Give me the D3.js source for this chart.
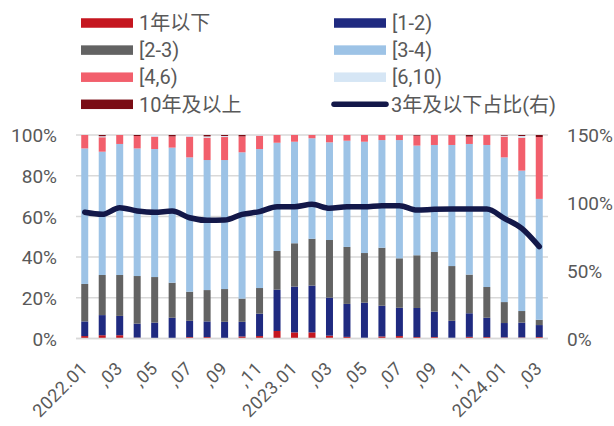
<!DOCTYPE html>
<html>
<head>
<meta charset="utf-8">
<script src="https://cdn.jsdelivr.net/npm/d3@7"></script>
<style>
  html, body { margin: 0; padding: 0; background: #fff; }
  svg { display: block; }
  text { font-family: Roboto, "Noto Sans CJK SC", sans-serif; fill: #595959; }
</style>
</head>
<body>
<svg id="chart" width="614" height="426"></svg>
<script>
// ---- data ----
const months = ["2022.01","2022.02","2022.03","2022.04","2022.05","2022.06","2022.07","2022.08","2022.09","2022.10","2022.11","2022.12",
                "2023.01","2023.02","2023.03","2023.04","2023.05","2023.06","2023.07","2023.08","2023.09","2023.10","2023.11","2023.12",
                "2024.01","2024.02","2024.03"];
const tickLabels = ["2022.01",",03",",05",",07",",09",",11","2023.01",",03",",05",",07",",09",",11","2024.01",",03"];
const seriesNames = ["1年以下","[1-2)","[2-3)","[3-4)","[4,6)","[6,10)","10年及以上"];
const under1  = [1.2,1.6,1.6,0.4,0.2,0.2,0.7,0.7,0.2,1.0,1.2,3.7,3.0,3.0,1.4,0.8,0.3,1.0,1.2,0.7,0.7,0.3,0.8,0.7,0.5,0.5,0.7];
const y1to2   = [7.2,9.9,9.5,6.9,7.6,10.0,8.0,7.7,8.0,7.2,11.0,20.3,22.5,23.0,18.7,16.2,17.3,15.1,13.9,14.3,12.5,8.4,11.6,9.5,7.1,7.3,5.9];
const y2to3   = [18.4,19.7,20.1,23.4,22.4,17.2,14.3,15.4,16.1,11.4,12.6,19.0,21.3,23.0,28.3,28.0,24.4,28.5,24.3,25.9,29.3,26.9,19.0,15.1,10.3,5.7,2.6];
const y3to4   = [66.6,60.6,64.4,62.7,62.9,66.4,66.0,63.9,63.4,71.9,68.3,53.2,49.9,49.4,48.0,52.2,54.7,52.9,58.1,53.9,52.6,59.5,64.2,69.8,71.1,69.0,59.4];
const y4to6   = [6.6,7.1,4.4,6.1,6.1,5.5,10.2,11.0,11.3,7.8,6.6,3.8,3.3,1.6,3.6,2.8,3.3,2.5,2.5,4.9,4.9,4.9,3.6,4.9,10.2,16.2,30.4];
const y6to10  = [0,0.5,0,0,0.8,0,0.8,0.6,0.5,0,0.3,0,0,0,0,0,0,0,0,0,0,0,0,0,0.5,0.8,0];
const over10  = [0,0.6,0,0.5,0,0.7,0,0.7,0.5,0.7,0,0,0,0,0,0,0,0,0,0.3,0,0,0.8,0,0.3,0.5,1.0];
const lineName = "3年及以下占比(右)";
const shareLine = [93.0,91.5,96.4,94.0,93.0,94.0,89.0,87.1,87.3,91.5,93.5,97.1,97.1,98.9,96.0,97.1,97.1,97.9,97.9,94.7,95.2,95.4,95.4,95.4,88.6,81.2,67.7];
const leftTicks = [0,20,40,60,80,100];
const rightTicks = [0,50,100,150];

const colors = ["#C5161F","#1F2A80","#636363","#9DC3E6","#F25F6C","#D6E6F5","#7A0C15"];
const lineColor = "#131849";

// ---- build ----
const seriesArrays = [under1,y1to2,y2to3,y3to4,y4to6,y6to10,over10];
const rows = months.map((m,i) => {
  const r = {month: m};
  seriesNames.forEach((s,k) => r[s] = seriesArrays[k][i]);
  return r;
});

const svg = d3.select("#chart");
const L = 76, R = 548, T = 135, B = 338.5;

const x = d3.scaleBand().domain(months).range([L,R]).paddingInner(0.6).paddingOuter(0.3);
const yL = d3.scaleLinear().domain([0,100]).range([B,T]);
const yR = d3.scaleLinear().domain([0,150]).range([B,T]);

// gridlines
svg.append("g").selectAll("line").data(leftTicks).join("line")
  .attr("x1",L).attr("x2",R)
  .attr("y1",d=>yL(d)).attr("y2",d=>yL(d))
  .attr("stroke","#D9D9D9").attr("stroke-width",1.5);

// stacked bars
const stack = d3.stack().keys(seriesNames)(rows);
svg.append("g").selectAll("g").data(stack).join("g")
  .attr("fill",(d,i)=>colors[i])
  .selectAll("rect").data(d=>d).join("rect")
  .attr("x",d=>x(d.data.month))
  .attr("width",x.bandwidth())
  .attr("y",d=>yL(d[1]))
  .attr("height",d=>Math.max(0,yL(d[0])-yL(d[1])));

// line
const line = d3.line()
  .x((d,i)=>x(months[i])+x.bandwidth()/2)
  .y(d=>yR(d))
  .curve(d3.curveMonotoneX);
svg.append("path").datum(shareLine)
  .attr("d",line).attr("fill","none")
  .attr("stroke",lineColor).attr("stroke-width",5.5)
  .attr("stroke-linejoin","round").attr("stroke-linecap","round");

// left axis
const axL = d3.axisLeft(yL).tickValues(leftTicks).tickFormat(d=>d+"%").tickSize(0).tickPadding(0);
const gL = svg.append("g").attr("transform",`translate(57,0)`).call(axL);
gL.select(".domain").remove();
gL.selectAll("text").style("font-size","19px").attr("fill","#595959").attr("dy","0.36em");

// right axis
const axR = d3.axisRight(yR).tickValues(rightTicks).tickFormat(d=>d+"%").tickSize(0).tickPadding(0);
const gR = svg.append("g").attr("transform",`translate(567,0)`).call(axR);
gR.select(".domain").remove();
gR.selectAll("text").style("font-size","19px").attr("fill","#595959").attr("dy","0.36em");

// bottom axis
const tickMonths = months.filter((m,i)=>i%2===0);
const axB = d3.axisBottom(x).tickValues(tickMonths)
  .tickFormat(m=>tickLabels[tickMonths.indexOf(m)]).tickSize(0).tickPadding(0);
const gB = svg.append("g").attr("transform",`translate(0,${B})`).call(axB);
gB.select(".domain").attr("stroke","#D9D9D9").attr("stroke-width",1.5).attr("d",`M${L},0H${R}`);
gB.selectAll("text")
  .style("font-size","18px").style("letter-spacing","0.5px").attr("fill","#595959")
  .attr("text-anchor","end").attr("dy",null).attr("y",null)
  .attr("transform","translate(4,31) rotate(-45)");

// legend
const legItems = [
  {name:seriesNames[0], c:colors[0], col:0, row:0},
  {name:seriesNames[1], c:colors[1], col:1, row:0},
  {name:seriesNames[2], c:colors[2], col:0, row:1},
  {name:seriesNames[3], c:colors[3], col:1, row:1},
  {name:seriesNames[4], c:colors[4], col:0, row:2},
  {name:seriesNames[5], c:colors[5], col:1, row:2},
  {name:seriesNames[6], c:colors[6], col:0, row:3},
];
const colX = [81, 334];
const rowY = r => 23 + r*27.1;
const lg = svg.append("g");
legItems.forEach(it=>{
  lg.append("rect").attr("x",colX[it.col]).attr("y",rowY(it.row)-4.75)
    .attr("width",52).attr("height",9.5).attr("fill",it.c);
  lg.append("text").attr("x",colX[it.col]+58).attr("y",rowY(it.row)).attr("dy","0.36em")
    .style("font-size","20px").text(it.name);
});
lg.append("line").attr("x1",334).attr("x2",386).attr("y1",rowY(3)).attr("y2",rowY(3))
  .attr("stroke",lineColor).attr("stroke-width",5.5).attr("stroke-linecap","round");
lg.append("text").attr("x",391).attr("y",rowY(3)).attr("dy","0.36em")
  .style("font-size","20px").text(lineName);
</script>
</body>
</html>
